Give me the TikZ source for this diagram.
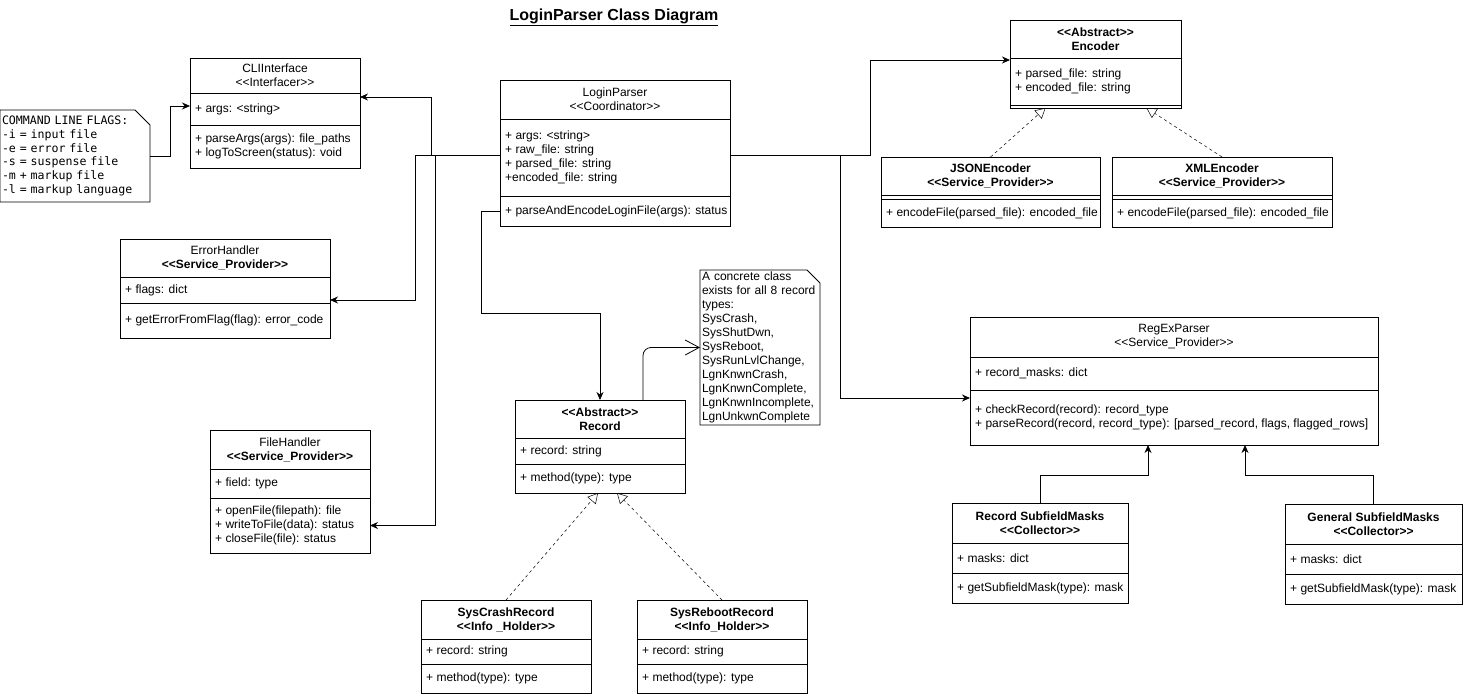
\documentclass[tikz,border=0pt]{standalone}
\usepackage{fontspec}
\setmainfont{Liberation Sans}
\newfontfamily\flagfont{DejaVu Sans Mono}
\usetikzlibrary{arrows.meta, positioning}
\newcommand{\stereo}[1]{<\kern0pt<#1>\kern0pt>}

\begin{document}
\begin{tikzpicture}[
        x=1pt, y=-1pt,
        font=\fontsize{12}{14}\selectfont,
        cls/.style={rectangle, draw, line width=0.8pt, inner sep=0pt, outer sep=0pt,
                    minimum width=#1, align=center},
        hd/.style={cls=#1, anchor=north west},
        bhd/.style={hd=#1, font=\fontsize{12}{14}\selectfont\bfseries},
        mem/.style={anchor=west, align=left, inner sep=0pt, xshift=5pt},
        notebox/.style={rectangle, anchor=north west, inner xsep=2pt, inner ysep=0pt,
                        outer sep=0pt, align=left},
        arrow/.style={-{Stealth[length=8pt, width=7pt]}, line width=0.8pt},
        realize/.style={-{Triangle[open, length=10pt, width=11pt]}, dashed, line width=0.5pt},
        link/.style={-{Straight Barb[length=14pt, width=15pt]}, line width=0.8pt, rounded corners=8pt}
    ]
        \useasboundingbox (0,0) rectangle (1471,698);
        \node[font=\fontsize{16}{19}\selectfont\bfseries] (title) at (614,17) {\underline{LoginParser Class Diagram}};

        % notes
        \node[notebox, minimum width=150pt, minimum height=92pt, text width=146pt,
              font=\flagfont\fontsize{11.6}{13.8}\selectfont] (flags) at (0,110)
              {COMMAND LINE FLAGS:\\-i = input file\\-e = error file\\-s = suspense file\\-m + markup file\\-l = markup language};
        \draw[line width=0.8pt] ([xshift=-15pt]flags.north east) -- (flags.north west) |- (flags.south east) -- ([yshift=-15pt]flags.north east) -- cycle;
        \node[notebox, minimum width=120pt, minimum height=155pt, text width=116pt] (recnote) at (700,270)
              {A concrete class\\exists for all 8 record\\types:\\SysCrash,\\SysShutDwn,\\SysReboot,\\SysRunLvlChange,\\LgnKnwnCrash,\\LgnKnwnComplete,\\LgnKnwnIncomplete,\\LgnUnkwnComplete};
        \draw[line width=0.8pt] ([xshift=-13pt]recnote.north east) -- (recnote.north west) |- (recnote.south east) -- ([yshift=-13pt]recnote.north east) -- cycle;

        % classes
        \node[hd=170pt, minimum height=35pt] (cli) at (190,58) {CLIInterface\\\stereo{Interfacer}};
        \node[cls=170pt, minimum height=32pt, below=0pt of cli, label={[mem]west:{+ args: <string>}}] (cli-a) {};
        \node[cls=170pt, minimum height=43pt, below=0pt of cli-a, label={[mem]west:{+ parseArgs(args): file\_paths\\+ logToScreen(status): void}}] (cli-o) {};

        \node[hd=230pt, minimum height=39pt] (lp) at (500,80) {LoginParser\\\stereo{Coordinator}};
        \node[cls=230pt, minimum height=77pt, below=0pt of lp, label={[mem]west:{+ args: <string>\\+ raw\_file: string\\+ parsed\_file: string\\+encoded\_file: string}}] (lp-a) {};
        \node[cls=230pt, minimum height=30pt, below=0pt of lp-a, label={[mem]west:{+ parseAndEncodeLoginFile(args): status}}] (lp-o) {};

        \node[bhd=171pt, minimum height=38pt] (enc) at (1010,20) {\stereo{Abstract}\\Encoder};
        \node[cls=171pt, minimum height=47pt, below=0pt of enc, label={[mem]west:{+ parsed\_file: string\\+ encoded\_file: string}}] (enc-a) {};
        \node[cls=171pt, minimum height=3pt, below=0pt of enc-a] (enc-o) {};

        \node[bhd=219pt, minimum height=38pt] (json) at (881,157) {JSONEncoder\\\stereo{Service\_Provider}};
        \node[cls=219pt, minimum height=4pt, below=0pt of json] (json-a) {};
        \node[cls=219pt, minimum height=28pt, below=0pt of json-a, label={[mem]west:{+ encodeFile(parsed\_file): encoded\_file}}] (json-o) {};

        \node[bhd=220pt, minimum height=38pt] (xml) at (1112,157) {XMLEncoder\\\stereo{Service\_Provider}};
        \node[cls=220pt, minimum height=4pt, below=0pt of xml] (xml-a) {};
        \node[cls=220pt, minimum height=28pt, below=0pt of xml-a, label={[mem]west:{+ encodeFile(parsed\_file): encoded\_file}}] (xml-o) {};

        \node[hd=210pt, minimum height=38pt] (eh) at (120,239) {ErrorHandler\\\textbf{\stereo{Service\_Provider}}};
        \node[cls=210pt, minimum height=26pt, below=0pt of eh, label={[mem]west:{+ flags: dict}}] (eh-a) {};
        \node[cls=210pt, minimum height=35pt, below=0pt of eh-a, label={[mem]west:{+ getErrorFromFlag(flag): error\_code}}] (eh-o) {};

        \node[hd=160pt, minimum height=39pt] (fh) at (210,430) {FileHandler\\\textbf{\stereo{Service\_Provider}}};
        \node[cls=160pt, minimum height=29pt, below=0pt of fh, label={[mem]west:{+ field: type}}] (fh-a) {};
        \node[cls=160pt, minimum height=55pt, below=0pt of fh-a, label={[mem]west:{+ openFile(filepath): file\\+ writeToFile(data): status\\+ closeFile(file): status}}] (fh-o) {};

        \node[bhd=170pt, minimum height=38pt] (rec) at (515,400) {\stereo{Abstract}\\Record};
        \node[cls=170pt, minimum height=26pt, below=0pt of rec, label={[mem]west:{+ record: string}}] (rec-a) {};
        \node[cls=170pt, minimum height=29pt, below=0pt of rec-a, label={[mem]west:{+ method(type): type}}] (rec-o) {};

        \node[hd=408pt, minimum height=40pt] (rx) at (970,317) {RegExParser\\\stereo{Service\_Provider}};
        \node[cls=408pt, minimum height=33pt, below=0pt of rx, label={[mem]west:{+ record\_masks: dict}}] (rx-a) {};
        \node[cls=408pt, minimum height=55pt, below=0pt of rx-a, label={[mem]west:{+ checkRecord(record): record\_type\\+ parseRecord(record, record\_type): [parsed\_record, flags, flagged\_rows]}}] (rx-o) {};

        \node[bhd=176pt, minimum height=40pt] (rsm) at (952,503) {Record SubfieldMasks\\\stereo{Collector}};
        \node[cls=176pt, minimum height=30pt, below=0pt of rsm, label={[mem]west:{+ masks: dict}}] (rsm-a) {};
        \node[cls=176pt, minimum height=30pt, below=0pt of rsm-a, label={[mem]west:{+ getSubfieldMask(type): mask}}] (rsm-o) {};

        \node[bhd=177pt, minimum height=40pt] (gsm) at (1285,504) {General SubfieldMasks\\\stereo{Collector}};
        \node[cls=177pt, minimum height=30pt, below=0pt of gsm, label={[mem]west:{+ masks: dict}}] (gsm-a) {};
        \node[cls=177pt, minimum height=30pt, below=0pt of gsm-a, label={[mem]west:{+ getSubfieldMask(type): mask}}] (gsm-o) {};

        \node[bhd=170pt, minimum height=39pt] (scr) at (421,600) {SysCrashRecord\\\stereo{Info \_Holder}};
        \node[cls=170pt, minimum height=25pt, below=0pt of scr, label={[mem]west:{+ record: string}}] (scr-a) {};
        \node[cls=170pt, minimum height=29pt, below=0pt of scr-a, label={[mem]west:{+ method(type): type}}] (scr-o) {};

        \node[bhd=170pt, minimum height=39pt] (srr) at (637,600) {SysRebootRecord\\\stereo{Info\_Holder}};
        \node[cls=170pt, minimum height=25pt, below=0pt of srr, label={[mem]west:{+ record: string}}] (srr-a) {};
        \node[cls=170pt, minimum height=29pt, below=0pt of srr-a, label={[mem]west:{+ method(type): type}}] (srr-o) {};

        % connectors
        \draw[arrow] (flags.east) -- ++(20,0) |- ([yshift=3pt]cli-a.west);
        \draw[arrow] ([yshift=2pt]lp-a.west) -- ++(-69,0) |- ([yshift=-4pt]cli-a.north east);
        \draw[arrow] ([yshift=2pt]lp-a.west) -- ++(-85,0) |- ([yshift=3pt]eh-o.north east);
        \draw[arrow] ([yshift=2pt]lp-a.west) -- ++(-65,0) |- (fh-o.east);
        \draw[arrow] (lp-o.west) -- ++(-19,0) -- ++(0,102) -| (rec.north);
        \draw[arrow] ([yshift=2pt]lp-a.east) -- ++(140,0) |- ([yshift=-2pt]enc-a.north west);
        \draw[arrow] ([yshift=2pt]lp-a.east) -- ++(110,0) |- ([yshift=-8pt]rx-o.north west);
        \draw[link] ([xshift=43pt]rec.north) |- (recnote.west);
        \draw[realize] (json.north) -- ([xshift=-50pt]enc-o.south);
        \draw[realize] (xml.north) -- ([xshift=51pt]enc-o.south);
        \draw[realize] (scr.north) -- ([xshift=-2pt]rec-o.south);
        \draw[realize] (srr.north) -- ([xshift=17pt]rec-o.south);
        \draw[arrow] (rsm.north) -- ++(0,-28) -| ([xshift=-26pt]rx-o.south);
        \draw[arrow] (gsm.north) -- ++(0,-29) -| ([xshift=71pt]rx-o.south);
    \end{tikzpicture}
\end{document}
